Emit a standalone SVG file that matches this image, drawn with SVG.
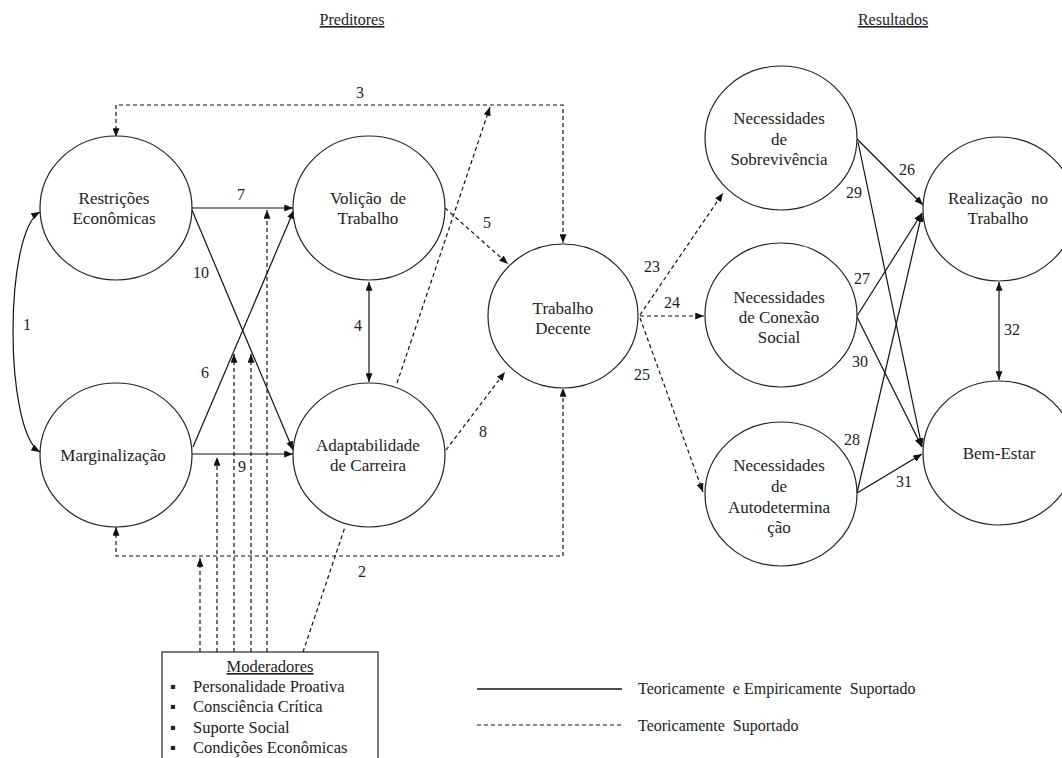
<svg xmlns="http://www.w3.org/2000/svg" width="1062" height="758" viewBox="0 0 1062 758">
<defs>
<marker id="ah" viewBox="0 0 10 8" markerUnits="userSpaceOnUse" markerWidth="9" markerHeight="7" refX="10" refY="4" orient="auto-start-reverse">
<path d="M0,0 L10,4 L0,8 z" fill="#111"/>
</marker>
<style>
.node ellipse{fill:#fff;stroke:#222;stroke-width:1.2}
text{font-family:"Liberation Serif","Times New Roman",serif;fill:#222}
.nt{font-size:17px;text-anchor:middle;white-space:pre}
.lb{font-size:16px;text-anchor:middle}
.s{fill:none;stroke:#111;stroke-width:1.2}
.d{fill:none;stroke:#111;stroke-width:1.2;stroke-dasharray:4 3}
.e{marker-end:url(#ah)}
.b{marker-start:url(#ah);marker-end:url(#ah)}
.ttl{font-size:16px;text-anchor:middle;text-decoration:underline}
.mod{font-size:16.5px}
.leg{font-size:16px;white-space:pre}
</style>
</defs>
<rect width="1062" height="758" fill="#fff"/>

<text class="ttl" x="352" y="25">Preditores</text>
<text class="ttl" x="893" y="25">Resultados</text>

<g id="connectors">
<path class="s b" d="M40,212 C4,232 4,430 40,452"/>
<path class="s e" d="M192,208 L293,208"/>
<path class="s e" d="M192,210 L293,450"/>
<path class="s e" d="M192,454 L293,454"/>
<path class="s e" d="M193,447 L294,210"/>
<path class="s b" d="M369,282 L369,382"/>
<path class="d e" d="M445,208 L508,264"/>
<path class="d e" d="M446,450 L505,372"/>
<path class="d b" d="M116,137 L116,105 L563,105 L563,243"/>
<path class="d b" d="M116,527 L116,556 L563,556 L563,388"/>
<path class="d e" d="M397,383 L490,107"/>
<path class="d" d="M303,652 L345,527"/>
<path class="d e" d="M200,652 L200,558"/>
<path class="d e" d="M217,652 L217,457"/>
<path class="d e" d="M234,652 L234,354"/>
<path class="d e" d="M251,652 L251,354"/>
<path class="d e" d="M267,652 L267,210"/>
<path class="d e" d="M640,315 L723,193"/>
<path class="d e" d="M640,316 L704,316"/>
<path class="d e" d="M640,318 L703,492"/>
<path class="s e" d="M857,139 L923,205"/>
<path class="s e" d="M858,142 L922,447"/>
<path class="s e" d="M857,316 L922,213"/>
<path class="s e" d="M857,317 L922,447"/>
<path class="s e" d="M857,493 L922,213"/>
<path class="s e" d="M857,493 L922,454"/>
<path class="s b" d="M999,282 L999,380"/>
</g>

<g id="labels">
<text class="lb" x="27" y="330">1</text>
<text class="lb" x="362" y="577">2</text>
<text class="lb" x="360" y="98">3</text>
<text class="lb" x="358" y="331">4</text>
<text class="lb" x="487" y="228">5</text>
<text class="lb" x="205" y="378">6</text>
<text class="lb" x="241" y="200">7</text>
<text class="lb" x="483" y="437">8</text>
<text class="lb" x="242" y="472">9</text>
<text class="lb" x="201" y="278">10</text>
<text class="lb" x="652" y="272">23</text>
<text class="lb" x="672" y="308">24</text>
<text class="lb" x="642" y="380">25</text>
<text class="lb" x="907" y="175">26</text>
<text class="lb" x="862" y="284">27</text>
<text class="lb" x="852" y="445">28</text>
<text class="lb" x="854" y="198">29</text>
<text class="lb" x="860" y="367">30</text>
<text class="lb" x="904" y="487">31</text>
<text class="lb" x="1012" y="335">32</text>
</g>

<g id="restricoes" class="node">
<ellipse cx="116" cy="208" rx="76" ry="72"/>
<text class="nt" x="114" y="204">Restrições</text>
<text class="nt" x="114" y="224">Econômicas</text>
</g>
<g id="volicao" class="node">
<ellipse cx="369" cy="208" rx="76" ry="72"/>
<text class="nt" x="368" y="204">Volição  de</text>
<text class="nt" x="368" y="224">Trabalho</text>
</g>
<g id="marginalizacao" class="node">
<ellipse cx="116" cy="455" rx="76" ry="72"/>
<text class="nt" x="113" y="461">Marginalização</text>
</g>
<g id="adaptabilidade" class="node">
<ellipse cx="369" cy="455" rx="76" ry="72"/>
<text class="nt" x="368" y="451">Adaptabilidade</text>
<text class="nt" x="368" y="471">de Carreira</text>
</g>
<g id="trabalho-decente" class="node">
<ellipse cx="563" cy="316" rx="75" ry="72"/>
<text class="nt" x="563" y="314">Trabalho</text>
<text class="nt" x="563" y="334">Decente</text>
</g>
<g id="sobrevivencia" class="node">
<ellipse cx="781" cy="138" rx="76" ry="72"/>
<text class="nt" x="779" y="124">Necessidades</text>
<text class="nt" x="779" y="145">de</text>
<text class="nt" x="779" y="165">Sobrevivência</text>
</g>
<g id="conexao" class="node">
<ellipse cx="781" cy="315" rx="76" ry="72"/>
<text class="nt" x="779" y="303">Necessidades</text>
<text class="nt" x="779" y="323">de Conexão</text>
<text class="nt" x="779" y="343">Social</text>
</g>
<g id="autodeterminacao" class="node">
<ellipse cx="781" cy="494" rx="76" ry="72"/>
<text class="nt" x="779" y="471">Necessidades</text>
<text class="nt" x="779" y="492">de</text>
<text class="nt" x="779" y="513">Autodetermina</text>
<text class="nt" x="779" y="533">ção</text>
</g>
<g id="realizacao" class="node">
<ellipse cx="999" cy="209" rx="76" ry="72"/>
<text class="nt" x="998" y="204">Realização  no</text>
<text class="nt" x="998" y="224">Trabalho</text>
</g>
<g id="bem-estar" class="node">
<ellipse cx="999" cy="453" rx="76" ry="72"/>
<text class="nt" x="999" y="459">Bem-Estar</text>
</g>

<g id="moderadores" class="node">
<rect x="162" y="652" width="216" height="120" fill="#fff" stroke="#222" stroke-width="1.2"/>
<text class="mod" x="270" y="672" text-anchor="middle" text-decoration="underline">Moderadores</text>
<text class="mod" x="170" y="692">▪</text><text class="mod" x="193" y="692">Personalidade Proativa</text>
<text class="mod" x="170" y="712">▪</text><text class="mod" x="193" y="712">Consciência Crítica</text>
<text class="mod" x="170" y="733">▪</text><text class="mod" x="193" y="733">Suporte Social</text>
<text class="mod" x="170" y="753">▪</text><text class="mod" x="193" y="753">Condições Econômicas</text>
</g>

<g id="legenda">
<line x1="477" y1="689" x2="622" y2="689" stroke="#111" stroke-width="1.3"/>
<line x1="477" y1="725" x2="622" y2="725" stroke="#111" stroke-width="1.2" stroke-dasharray="4 3"/>
<text class="leg" x="638" y="694">Teoricamente  e Empiricamente  Suportado</text>
<text class="leg" x="638" y="731">Teoricamente  Suportado</text>
</g>
</svg>
